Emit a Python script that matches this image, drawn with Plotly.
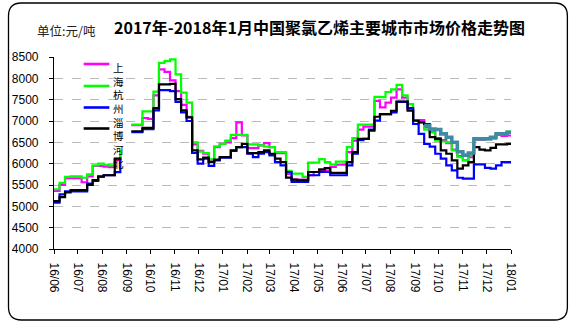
import pandas as pd
import plotly.graph_objects as go

# weekly sampling dates (last point = 2018-01-01)
dates = list(pd.date_range("2016-06-01", periods=83, freq="7D")) + [pd.Timestamp("2018-01-01")]

series_names = ["上海", "杭州", "淄博", "河北"]

shanghai = [5364, 5503, 5658, 5658, 5658, 5565, 5700, 5945, 5945, 5930,
            5920, 6080, 6280, None, 6900, 6900, 7070, 7050, 7600, 8210,
            8150, 7950, 7700, 7380, 7100, 6450, 6300, 6233, 6061, 6387,
            6465, 6500, 6600, 6968, 6660, 6364, 6364, 6430, 6480, 6387,
            6247, 6247, 5760, 5628, 5628, 5628, 5728, 5805, 5845, 5845,
            5922, 5977, 5977, 6270, 6542, 6800, 6868, 6868, 7473, 7317,
            7433, 7550, 7743, 7550, 7280, 7024, 7024, 6850, 6750, 6600,
            6550, 6480, 6330, 6180, 6080, 6150, 6560, 6560, 6600, 6620,
            6680, 6650, 6660, 6660]

hangzhou = [5400, 5550, 5690, 5705, 5705, 5670, 5750, 5960, 6000, 5975,
            5960, 6110, 6320, None, 6914, 6914, 7224, 7224, 7690, 8364,
            8403, 8442, 8094, 7666, 7433, 6500, 6280, 6250, 6100, 6403,
            6465, 6542, 6675, 6675, 6675, 6450, 6450, 6430, 6400, 6387,
            6270, 6270, 5830, 5768, 5768, 5690, 6024, 6024, 6108, 6038,
            5977, 6047, 6047, 6387, 6600, 6914, 6914, 6914, 7566, 7560,
            7680, 7743, 7845, 7600, 7396, 7024, 6968, 6800, 6730, 6542,
            6520, 6500, 6310, 6154, 6077, 6200, 6582, 6582, 6582, 6582,
            6698, 6698, 6750, 6750]

zibo = [5085, 5280, 5350, 5350, 5350, 5350, 5530, 5596, 5690, 5728,
        5728, 5800, 6107, None, 6740, 6740, 6810, 6810, 7250, 7722,
        7722, 7700, 7450, 7200, 7000, 6250, 6000, 6117, 5946, 6077,
        6140, 6140, 6300, 6387, 6387, 6233, 6154, 6233, 6270, 6193,
        6038, 5961, 5805, 5573, 5573, 5573, 5728, 5728, 5805, 5805,
        5728, 5728, 5728, 5961, 6233, 6550, 6582, 6800, 7007, 7163,
        7163, 7200, 7450, 7450, 7300, 6930, 6700, 6465, 6400, 6233,
        6117, 5960, 5845, 5670, 5651, 5651, 5984, 5984, 5900, 5884,
        5961, 6038, 6038, 6038]

hebei = [5123, 5216, 5325, 5380, 5380, 5380, 5502, 5612, 5705, 5728,
         5728, 6120, 6150, None, 6760, 6760, 6838, 6838, 7300, 7860,
         7860, 7870, 7512, 7250, 7084, 6310, 6100, 6140, 6038, 6093,
         6154, 6154, 6310, 6387, 6465, 6247, 6247, 6270, 6310, 6233,
         6117, 6038, 5675, 5628, 5612, 5612, 5805, 5805, 5868, 5899,
         5783, 5783, 5783, 6038, 6270, 6582, 6582, 6775, 7100, 7160,
         7163, 7240, 7457, 7457, 7240, 7007, 6968, 6930, 6620, 6582,
         6310, 6233, 6077, 5884, 5961, 6038, 6387, 6330, 6310, 6372,
         6450, 6450, 6465, 6465]

extra = [None] * 67 + [6891, 6814, 6800,
                       6698, 6620, 6503, 6280, 6200, 6250, 6582, 6582, 6582, 6620,
                       6698, 6698, 6736, 6736]

y_ticks = [4000, 4500, 5000, 5500, 6000, 6500, 7000, 7500, 8000, 8500]

W, H = 572, 324
ML, MR, MT, MB = 49, 61, 57, 75
PW, PH = W - ML - MR, H - MT - MB


def px(x):
    return (x - ML) / PW


def py(y):
    return (H - MB - y) / PH


colors = ["#FF00FF", "#00FF00", "#0000FF", "#000000"]
fig = go.Figure()
for name, vals, c in zip(series_names, [shanghai, hangzhou, zibo, hebei], colors):
    fig.add_trace(go.Scatter(x=dates, y=vals, mode="lines", name=name,
                             line=dict(color=c, width=2.2, shape="hv"),
                             connectgaps=False, showlegend=False))
fig.add_trace(go.Scatter(x=dates, y=extra, mode="lines", name="",
                         line=dict(color="#3F8CA2", width=3.6, shape="hv"),
                         connectgaps=False, showlegend=False))

shapes = []
# rounded border
r = 13
x0, x1, y0, y1 = 3, 568, 3, 320
path = (f"M {px(x0+r)},{py(y0)} L {px(x1-r)},{py(y0)} Q {px(x1)},{py(y0)} {px(x1)},{py(y0+r)} "
        f"L {px(x1)},{py(y1-r)} Q {px(x1)},{py(y1)} {px(x1-r)},{py(y1)} "
        f"L {px(x0+r)},{py(y1)} Q {px(x0)},{py(y1)} {px(x0)},{py(y1-r)} "
        f"L {px(x0)},{py(y0+r)} Q {px(x0)},{py(y0)} {px(x0+r)},{py(y0)} Z")
shapes.append(dict(type="path", xref="paper", yref="paper", path=path,
                   line=dict(color="black", width=1.3), layer="above"))

# manual legend: coloured lines + one vertically stacked label column
legend_y = [64, 86, 107.5, 128.5]
annotations = []
for ly, c in zip(legend_y, colors):
    shapes.append(dict(type="line", xref="paper", yref="paper",
                       x0=px(79), x1=px(105), y0=py(ly), y1=py(ly),
                       line=dict(color=c, width=2.6)))
annotations.append(dict(text="<br>".join("".join(series_names)), xref="paper", yref="paper",
                        x=px(114), y=py(58), xanchor="center", yanchor="top",
                        showarrow=False, align="center",
                        font=dict(family="Noto Sans CJK SC", size=10.5, color="black")))

annotations.append(dict(text="2017年-2018年1月中国聚氯乙烯主要城市市场价格走势图",
                        xref="paper", yref="paper", x=px(317), y=py(27),
                        xanchor="center", yanchor="middle", showarrow=False,
                        font=dict(family="Noto Sans CJK SC", size=16, color="black", weight="bold")))
annotations.append(dict(text="单位:元/吨", xref="paper", yref="paper", x=px(30), y=py(30),
                        xanchor="left", yanchor="middle", showarrow=False,
                        font=dict(family="Noto Sans CJK SC", size=12.5, color="#222222")))

fig.update_layout(
    width=W, height=H,
    margin=dict(l=ML, r=MR, t=MT, b=MB),
    paper_bgcolor="white", plot_bgcolor="white",
    shapes=shapes, annotations=annotations,
    showlegend=False,
    font=dict(family="Liberation Sans, Arial", size=12, color="black"),
)
fig.update_xaxes(type="date", range=["2016-06-01", "2018-01-01"],
                 tick0="2016-06-01", dtick="M1", tickformat="%y/%m",
                 tickangle=90, showgrid=False, showline=True, linecolor="black",
                 linewidth=1.2, ticks="outside", ticklen=4, tickcolor="black",
                 ticklabelstandoff=6, zeroline=False,
                 tickfont=dict(family="Liberation Sans, Arial", size=12, color="black"))
fig.update_yaxes(range=[4000, 8500], tickvals=y_ticks, showgrid=True,
                 gridcolor="#BBBBBB", griddash="dash", gridwidth=1,
                 showline=True, linecolor="black", linewidth=1.2,
                 ticks="outside", ticklen=4, tickcolor="black",
                 ticklabelstandoff=8, zeroline=False,
                 tickfont=dict(family="Liberation Sans, Arial", size=12, color="black"))

fig.write_html("out.html")
